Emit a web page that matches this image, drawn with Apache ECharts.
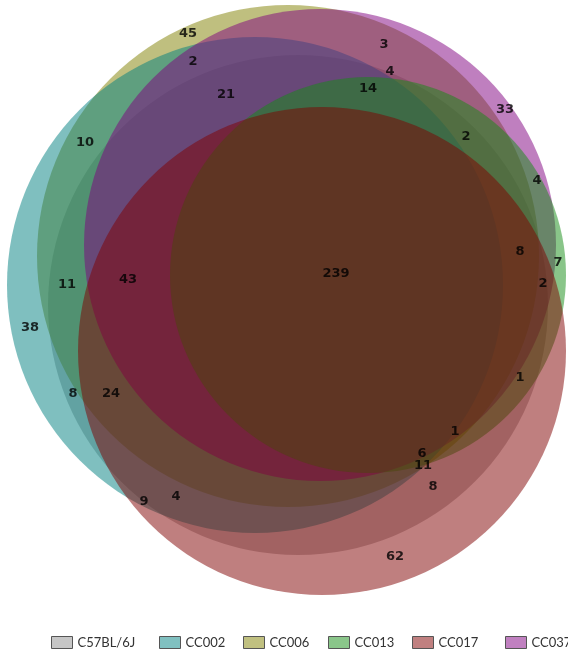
<!DOCTYPE html>
<html>
<head>
<meta charset="utf-8">
<script src="https://cdn.jsdelivr.net/npm/echarts@6/dist/echarts.min.js"></script>
<style>
html, body { margin: 0; padding: 0; background: #fff; }
#chart { width: 568px; height: 656px; }
</style>
</head>
<body>
<div id="chart"></div>
<script>
// Strains (legend order) and their base fill colours
const setNames  = ['C57BL/6J', 'CC002', 'CC006', 'CC013', 'CC017', 'CC037'];
const setColors = ['#8c8c8c', '#008080', '#808000', '#148c14', '#800000', '#800080'];

// Painting order of the circles, bottom to top
const drawOrder = ['C57BL/6J', 'CC006', 'CC002', 'CC037', 'CC013', 'CC017'];

// Circle layout in plot units: centre x, centre y, radius
const circleX = { 'C57BL/6J': 298, 'CC002': 255, 'CC006': 288, 'CC013': 368, 'CC017': 322, 'CC037': 320 };
const circleY = { 'C57BL/6J': 305, 'CC002': 285, 'CC006': 256, 'CC013': 275, 'CC017': 351, 'CC037': 245 };
const circleR = { 'C57BL/6J': 250, 'CC002': 248, 'CC006': 251, 'CC013': 198, 'CC017': 244, 'CC037': 236 };

// Gene counts for each region of the diagram
const regionCounts = [45, 2, 3, 4, 14, 21, 10, 33, 2, 4, 8, 7, 239, 43, 11, 2, 38, 8, 24, 1, 1, 6, 11, 8, 9, 4, 62];
// Where each count is written (plot units)
const labelX = [188, 193, 384, 390, 368, 226, 85, 505, 466, 537, 520, 558, 336, 128, 67, 543, 30, 73, 111, 520, 455, 422, 423, 433, 144, 176, 395];
const labelY = [34, 62, 45, 72, 89, 95, 143, 110, 137, 181, 252, 263, 274, 280, 285, 284, 328, 394, 394, 378, 432, 454, 466, 487, 502, 497, 557];

// Legend placement
const legendLeft = [46, 154, 238, 323, 407, 500];

const FILL_ALPHA = 0.5;

function lighten(hex, a) {
  const n = parseInt(hex.slice(1), 16);
  const r = (n >> 16) & 255, g = (n >> 8) & 255, b = n & 255;
  const mix = c => Math.round(255 * (1 - a) + c * a);
  return 'rgb(' + mix(r) + ',' + mix(g) + ',' + mix(b) + ')';
}

const colorOf = {};
setNames.forEach((n, i) => { colorOf[n] = setColors[i]; });

const circleSeries = drawOrder.map(name => ({
  name: name,
  type: 'custom',
  coordinateSystem: 'cartesian2d',
  silent: true,
  itemStyle: { color: lighten(colorOf[name], FILL_ALPHA) },
  encode: { x: 0, y: 1 },
  data: [[circleX[name], circleY[name], circleR[name]]],
  renderItem: function (params, api) {
    const c = api.coord([api.value(0), api.value(1)]);
    const r = api.size([api.value(2), 0])[0];
    return {
      type: 'circle',
      shape: { cx: c[0], cy: c[1], r: r },
      style: { fill: echarts.color.modifyAlpha(colorOf[name], FILL_ALPHA), stroke: 'none' }
    };
  }
}));

const labelSeries = {
  type: 'scatter',
  silent: true,
  symbolSize: 1,
  itemStyle: { color: 'rgba(0,0,0,0)' },
  z: 10,
  label: {
    show: true,
    position: 'inside',
    formatter: p => String(p.value[2]),
    fontFamily: 'DejaVu Sans',
    fontWeight: 'bold',
    fontSize: 13,
    color: '#000'
  },
  data: regionCounts.map((v, i) => [labelX[i], labelY[i], v])
};

const legends = setNames.map((name, i) => ({
  left: legendLeft[i],
  top: 631,
  orient: 'horizontal',
  itemWidth: 21,
  itemHeight: 12,
  itemGap: 0,
  selectedMode: false,
  textStyle: { fontFamily: 'Lato', fontSize: 13, color: '#333' },
  data: [{
    name: name,
    icon: 'rect',
    itemStyle: { color: lighten(setColors[i], FILL_ALPHA), borderColor: '#555', borderWidth: 1 }
  }]
}));

const chart = echarts.init(document.getElementById('chart'), null, { renderer: 'canvas' });
chart.setOption({
  animation: false,
  backgroundColor: '#fff',
  grid: { left: 0, right: 0, top: 0, bottom: 0 },
  xAxis: { type: 'value', min: 0, max: 568, show: false },
  yAxis: { type: 'value', min: 0, max: 656, inverse: true, show: false },
  legend: legends,
  series: circleSeries.concat([labelSeries])
});
</script>
</body>
</html>
